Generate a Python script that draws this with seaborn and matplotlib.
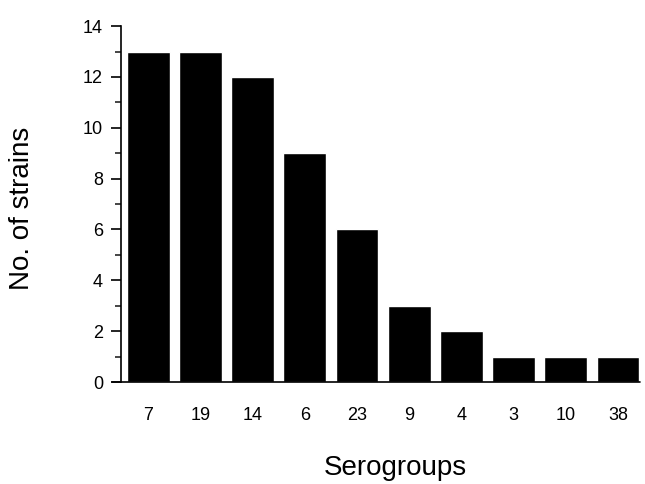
import numpy as np
import pandas as pd
import matplotlib
matplotlib.use('Agg')
import matplotlib.pyplot as plt
import seaborn as sns
from matplotlib.ticker import MultipleLocator

# Data
serogroups = ['7', '19', '14', '6', '23', '9', '4', '3', '10', '38']
n_strains = [13, 13, 12, 9, 6, 3, 2, 1, 1, 1]

sns.set_theme(style='white')
plt.rcParams['font.family'] = ['Liberation Sans', 'DejaVu Sans']

df = pd.DataFrame({'serogroup': serogroups, 'strains': n_strains})

fig = plt.figure(figsize=(6.45, 4.84), dpi=100)
ax = fig.add_axes([0.1876, 0.2107, 0.8044, 0.7353])

sns.barplot(data=df, x='serogroup', y='strains', order=serogroups,
            color='black', width=0.82, saturation=1, ax=ax)

ax.set_xlim(-0.52, 9.42)
ax.set_ylim(0, 14)
ax.yaxis.set_major_locator(MultipleLocator(2))
ax.yaxis.set_minor_locator(MultipleLocator(1))

for side in ['top', 'right', 'bottom']:
    ax.spines[side].set_visible(False)
ax.spines['left'].set_color('black')
ax.spines['left'].set_linewidth(1.2)
# baseline extends slightly left of the y axis
ax.axhline(0, xmin=-0.017, xmax=1.0, color='black', linewidth=1.2, clip_on=False)

ax.tick_params(axis='y', which='major', direction='out', length=7, width=1.2,
               left=True, labelsize=13, colors='black', pad=6)
ax.tick_params(axis='y', which='minor', direction='out', length=4, width=1.2,
               left=True)
ax.tick_params(axis='x', length=0, labelsize=13, colors='black', pad=18)

ax.set_xlabel('')
ax.set_ylabel('')
fig.text(395 / 645, 1 - 468 / 484, 'Serogroups', fontsize=20,
         ha='center', va='center', color='black')
fig.text(22 / 645, 1 - 208 / 484, 'No. of strains', fontsize=20,
         rotation=90, ha='center', va='center', color='black')

fig.savefig('out.png', dpi=100)
